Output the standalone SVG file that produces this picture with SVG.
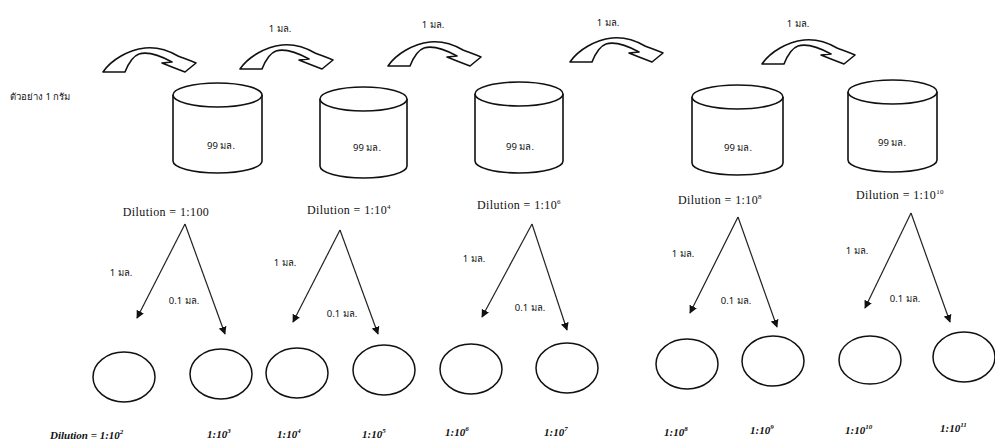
<svg xmlns="http://www.w3.org/2000/svg" width="995" height="444" viewBox="0 0 995 444">
  <style>
    .bg { fill: #ffffff; }
    .outline { fill: #ffffff; stroke: #111111; stroke-width: 1.6; stroke-linejoin: round; }
    .tube { fill: #ffffff; stroke: #111111; stroke-width: 1.6; }
    .dish { fill: none; stroke: #111111; stroke-width: 1.5; }
    .edge { stroke: #222222; stroke-width: 1.2; fill: none; marker-end: url(#head); }
    .thai { font-family: "Noto Sans", "DejaVu Sans", "Liberation Sans", sans-serif; font-size: 9.5px; fill: #111111; }
    .dil { font-family: "Liberation Serif", serif; font-size: 12px; letter-spacing: 0.4px; fill: #111111; }
    .bot { font-family: "Liberation Serif", serif; font-size: 11px; font-weight: bold; font-style: italic; fill: #111111; }
    .sup { font-size: 7px; }
  </style>
  <defs>
    <!-- hollow curved block arrow used for each transfer step -->
    <path id="bend" d="M0,24 L22,24 C26,14 30,8 36,6 C46,3 58,8 69,14 L59,15 L69,19 L82,24 L93,15 C86,12 80,10 75,8 C63,1 52,-1 42,0 C25,2 8,12 0,24 Z"/>
    <marker id="head" viewBox="0 0 10 10" refX="9" refY="5" markerWidth="8" markerHeight="8" orient="auto" markerUnits="userSpaceOnUse">
      <path d="M0,0 L10,5 L0,10 Z" fill="#111111"/>
    </marker>
  </defs>
  <rect class="bg" x="0" y="0" width="995" height="444"/>

  <!-- sample label -->
  <text class="thai" x="10" y="100">ตัวอย่าง 1 กรัม</text>

  <!-- transfer arrows between bottles -->
  <g id="transfers">
    <use href="#bend" class="outline" transform="translate(103,48)"/>
    <use href="#bend" class="outline" transform="translate(240,45)"/>
    <use href="#bend" class="outline" transform="translate(388,42)"/>
    <use href="#bend" class="outline" transform="translate(570,38)"/>
    <use href="#bend" class="outline" transform="translate(762,40)"/>
    <text class="thai" x="280" y="32" text-anchor="middle">1 มล.</text>
    <text class="thai" x="433" y="28" text-anchor="middle">1 มล.</text>
    <text class="thai" x="608" y="26" text-anchor="middle">1 มล.</text>
    <text class="thai" x="798" y="27" text-anchor="middle">1 มล.</text>
  </g>

  <!-- dilution bottles -->
  <g id="bottle1">
    <path class="tube" d="M173,95 L173,161 A44.5,12 0 0 0 262,161 L262,95"/>
    <ellipse class="tube" cx="217.5" cy="95" rx="44.5" ry="12"/>
    <text class="thai" x="221" y="149" text-anchor="middle">99 มล.</text>
  </g>
  <g id="bottle2">
    <path class="tube" d="M320,99 L320,166 A43.5,12 0 0 0 407,166 L407,99"/>
    <ellipse class="tube" cx="363.5" cy="99" rx="43.5" ry="12"/>
    <text class="thai" x="367" y="151" text-anchor="middle">99 มล.</text>
  </g>
  <g id="bottle3">
    <path class="tube" d="M475,94 L475,161 A44,12 0 0 0 563,161 L563,94"/>
    <ellipse class="tube" cx="519" cy="94" rx="44" ry="12"/>
    <text class="thai" x="520" y="150" text-anchor="middle">99 มล.</text>
  </g>
  <g id="bottle4">
    <path class="tube" d="M692,97 L692,163 A45.5,12 0 0 0 783,163 L783,97"/>
    <ellipse class="tube" cx="737.5" cy="97" rx="45.5" ry="12"/>
    <text class="thai" x="738" y="151" text-anchor="middle">99 มล.</text>
  </g>
  <g id="bottle5">
    <path class="tube" d="M848,92 L848,160 A44.5,12 0 0 0 937,160 L937,92"/>
    <ellipse class="tube" cx="892.5" cy="92" rx="44.5" ry="12"/>
    <text class="thai" x="892" y="146" text-anchor="middle">99 มล.</text>
  </g>

  <!-- dilution captions under each bottle -->
  <g id="dilutions">
    <text class="dil" x="166" y="216" text-anchor="middle">Dilution = 1:100</text>
    <text class="dil" x="349" y="214" text-anchor="middle">Dilution = 1:10<tspan class="sup" dy="-5">4</tspan></text>
    <text class="dil" x="519" y="209" text-anchor="middle">Dilution = 1:10<tspan class="sup" dy="-5">6</tspan></text>
    <text class="dil" x="720" y="204" text-anchor="middle">Dilution = 1:10<tspan class="sup" dy="-5">8</tspan></text>
    <text class="dil" x="900" y="199" text-anchor="middle">Dilution = 1:10<tspan class="sup" dy="-5">10</tspan></text>
  </g>

  <!-- plating connectors -->
  <g id="connectors">
    <line class="edge" x1="185" y1="224" x2="137" y2="318"/>
    <line class="edge" x1="185" y1="224" x2="225" y2="334"/>
    <line class="edge" x1="340" y1="230" x2="293" y2="322"/>
    <line class="edge" x1="340" y1="230" x2="378" y2="334"/>
    <line class="edge" x1="532" y1="224" x2="482" y2="317"/>
    <line class="edge" x1="532" y1="224" x2="567" y2="330"/>
    <line class="edge" x1="738" y1="217" x2="690" y2="313"/>
    <line class="edge" x1="738" y1="217" x2="777" y2="327"/>
    <line class="edge" x1="911" y1="213" x2="865" y2="308"/>
    <line class="edge" x1="911" y1="213" x2="950" y2="322"/>
  </g>

  <!-- volume labels on connectors -->
  <g id="volumes">
    <text class="thai" x="121" y="276" text-anchor="middle">1 มล.</text>
    <text class="thai" x="184" y="304" text-anchor="middle">0.1 มล.</text>
    <text class="thai" x="285" y="266" text-anchor="middle">1 มล.</text>
    <text class="thai" x="342" y="317" text-anchor="middle">0.1 มล.</text>
    <text class="thai" x="474" y="262" text-anchor="middle">1 มล.</text>
    <text class="thai" x="530" y="311" text-anchor="middle">0.1 มล.</text>
    <text class="thai" x="683" y="257" text-anchor="middle">1 มล.</text>
    <text class="thai" x="736" y="304" text-anchor="middle">0.1 มล.</text>
    <text class="thai" x="857" y="254" text-anchor="middle">1 มล.</text>
    <text class="thai" x="905" y="302" text-anchor="middle">0.1 มล.</text>
  </g>

  <!-- plates -->
  <g id="plate1"><ellipse class="dish" cx="124" cy="377" rx="31" ry="25"/></g>
  <g id="plate2"><ellipse class="dish" cx="221" cy="374" rx="31" ry="25"/></g>
  <g id="plate3"><ellipse class="dish" cx="297" cy="373" rx="31" ry="25"/></g>
  <g id="plate4"><ellipse class="dish" cx="384" cy="370" rx="31" ry="25"/></g>
  <g id="plate5"><ellipse class="dish" cx="471" cy="369" rx="31" ry="25"/></g>
  <g id="plate6"><ellipse class="dish" cx="567" cy="368" rx="31" ry="25"/></g>
  <g id="plate7"><ellipse class="dish" cx="687" cy="364" rx="31" ry="25"/></g>
  <g id="plate8"><ellipse class="dish" cx="773" cy="361" rx="31" ry="25"/></g>
  <g id="plate9"><ellipse class="dish" cx="870" cy="360" rx="31" ry="24"/></g>
  <g id="plate10"><ellipse class="dish" cx="964" cy="357" rx="31" ry="25"/></g>

  <!-- plate dilutions -->
  <g id="plate-dilutions">
    <text class="bot" x="50" y="439">Dilution = 1:10<tspan class="sup" dy="-5">2</tspan></text>
    <text class="bot" x="207" y="438">1:10<tspan class="sup" dy="-5">3</tspan></text>
    <text class="bot" x="277" y="438">1:10<tspan class="sup" dy="-5">4</tspan></text>
    <text class="bot" x="362" y="438">1:10<tspan class="sup" dy="-5">5</tspan></text>
    <text class="bot" x="445" y="436">1:10<tspan class="sup" dy="-5">6</tspan></text>
    <text class="bot" x="544" y="436">1:10<tspan class="sup" dy="-5">7</tspan></text>
    <text class="bot" x="664" y="436">1:10<tspan class="sup" dy="-5">8</tspan></text>
    <text class="bot" x="750" y="434">1:10<tspan class="sup" dy="-5">9</tspan></text>
    <text class="bot" x="845" y="434">1:10<tspan class="sup" dy="-5">10</tspan></text>
    <text class="bot" x="940" y="432">1:10<tspan class="sup" dy="-5">11</tspan></text>
  </g>
</svg>
